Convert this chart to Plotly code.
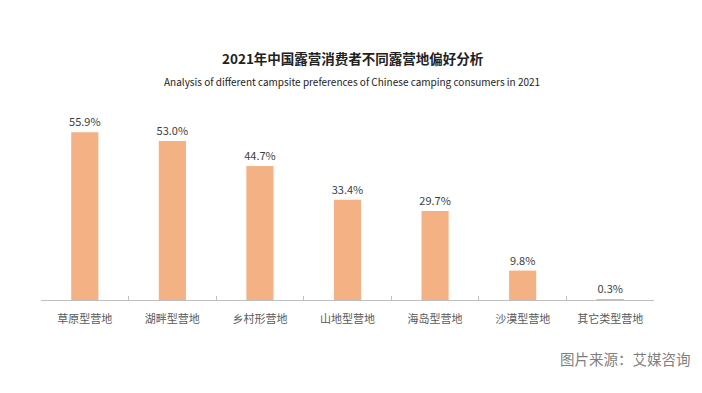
import plotly.graph_objects as go

categories = ["草原型营地", "湖畔型营地", "乡村形营地", "山地型营地", "海岛型营地", "沙漠型营地", "其它类型营地"]
values = [55.9, 53.0, 44.7, 33.4, 29.7, 9.8, 0.3]
value_labels = ["55.9%", "53.0%", "44.7%", "33.4%", "29.7%", "9.8%", "0.3%"]

font_family = "Noto Sans CJK SC, Noto Sans, sans-serif"

# page body has an 8px default offset; compensate
OFF = 8
W, H = 702, 393
L, R, T, B = 41 - OFF, W - 654 + OFF, 120 - OFF, H - 300 + OFF

fig = go.Figure(go.Bar(
    x=categories, y=values,
    marker=dict(color="#F4B183", line=dict(width=0)),
    text=value_labels, textposition="outside", cliponaxis=False,
    constraintext="none",
    textfont=dict(size=11, color="#404040", family=font_family),
))

plot_h = H - T - B
plot_w = W - L - R
def py(ypix):
    return (H - B - (ypix - OFF)) / plot_h
def px(xpix):
    return (xpix - OFF - L) / plot_w

fig.update_layout(
    width=W, height=H,
    margin=dict(l=L, r=R, t=T, b=B),
    paper_bgcolor="white", plot_bgcolor="white",
    bargap=0.69,
    showlegend=False,
    font=dict(family=font_family),
    xaxis=dict(
        showline=True, linecolor="#BFBFBF", linewidth=1,
        ticks="inside", tickson="boundaries", ticklen=4, tickcolor="#BFBFBF",
        tickfont=dict(size=11, color="#595959", family=font_family),
        ticklabelstandoff=9,
        showgrid=False,
    ),
    yaxis=dict(range=[0, 60], visible=False, showgrid=False, zeroline=False),
    annotations=[
        dict(text="<b>2021年中国露营消费者不同露营地偏好分析</b>", x=px(353), xref="paper", y=py(58), yref="paper",
             showarrow=False, font=dict(size=13.5, color="#222222", family=font_family), yanchor="middle"),
        dict(text="Analysis of different campsite preferences of Chinese camping consumers in 2021",
             x=px(352), xref="paper", y=py(81), yref="paper",
             showarrow=False, font=dict(size=10, color="#222222", family=font_family), yanchor="middle"),
        dict(text="图片来源：艾媒咨询", showarrow=False, xanchor="right", yanchor="middle",
             x=px(693), xref="paper", y=py(358), yref="paper",
             font=dict(size=14.5, color="#7F7F7F", family=font_family)),
    ],
)

fig.write_html("out.html")
